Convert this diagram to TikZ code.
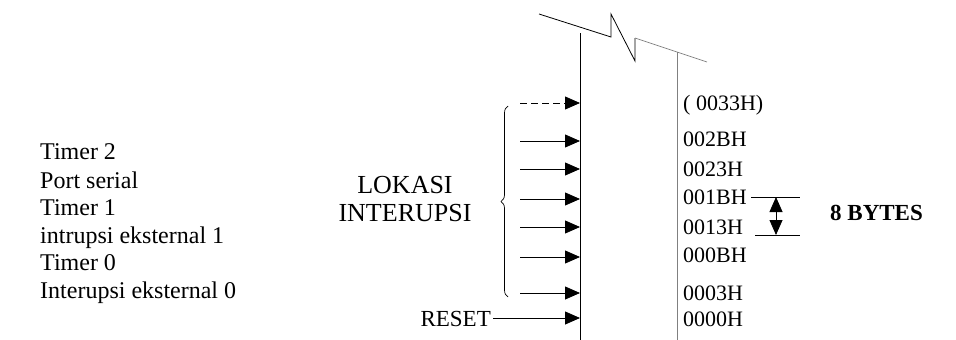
\documentclass[tikz,border=0pt]{standalone}
\usepackage{fontspec}
\setmainfont{Liberation Serif}
\usetikzlibrary{arrows.meta,decorations.pathreplacing}
\begin{document}
\begin{tikzpicture}[x=1pt,y=-1pt,
  listtxt/.style={font=\fontsize{24}{28}\selectfont, inner sep=0pt, anchor=base west},
  addr/.style={font=\fontsize{22}{26}\selectfont, inner sep=0pt, anchor=base west},
  ctxt/.style={font=\fontsize{26}{30}\selectfont, inner sep=0pt, anchor=base},
  arr/.style={-{Triangle[length=15pt,width=13pt]}, line width=0.8pt},
  ln/.style={line width=0.8pt},
  faint/.style={line width=0.7pt, gray}]
\useasboundingbox (0,0) rectangle (956,340);

% break line at top
\coordinate (z1) at (539,14);
\coordinate (z2) at (611,37);
\coordinate (z3) at (611,14);
\coordinate (z4) at (635,61);
\coordinate (z5) at (635,38);
\coordinate (z6) at (707,62);
\draw[ln] (z1) -- (z2) -- (z3) -- (z4) -- (z5);
\draw[faint] (z5) -- (z6);

% vertical lines
\coordinate (La) at (580,33);
\coordinate (Lb) at (580,340);
\coordinate (Ra) at (677,52);
\coordinate (Rb) at (677,340);
\draw[ln] (La) -- (Lb);
\draw[faint] (Ra) -- (Rb);

% left list
\node[listtxt] (t1) at (40,159) {Timer 2};
\node[listtxt] (t2) at (40,188) {Port serial};
\node[listtxt] (t3) at (40,215) {Timer 1};
\node[listtxt] (t4) at (40,243) {intrupsi eksternal 1};
\node[listtxt] (t5) at (40,270) {Timer 0};
\node[listtxt] (t6) at (40,298) {Interupsi eksternal 0};

% lokasi interupsi
\node[ctxt] (lok) at (405,193) {LOKASI};
\node[ctxt] (int) at (405,221) {INTERUPSI};

% brace
\coordinate (ba) at (508,297);
\coordinate (bb) at (508,106);
\draw[line width=0.7pt, decorate, decoration={brace, amplitude=7pt}] (ba) -- (bb);

% arrows
\coordinate (s1) at (520,103); \coordinate (e1) at (580,103);
\coordinate (s2) at (520,141); \coordinate (e2) at (580,141);
\coordinate (s3) at (520,169); \coordinate (e3) at (580,169);
\coordinate (s4) at (520,199); \coordinate (e4) at (580,199);
\coordinate (s5) at (520,227); \coordinate (e5) at (580,227);
\coordinate (s6) at (520,257); \coordinate (e6) at (580,257);
\coordinate (s7) at (520,293); \coordinate (e7) at (580,293);
\coordinate (e8) at (580,318);
\draw[arr, dash pattern=on 7pt off 4pt] (s1) -- (e1);
\draw[arr] (s2) -- (e2);
\draw[arr] (s3) -- (e3);
\draw[arr] (s4) -- (e4);
\draw[arr] (s5) -- (e5);
\draw[arr] (s6) -- (e6);
\draw[arr] (s7) -- (e7);
\node[listtxt, font=\fontsize{23}{27}\selectfont, anchor=base east] (reset) at (491,326) {RESET};
\draw[arr] (reset.east |- e8) ++(2,0) coordinate (s8) -- (e8);

% addresses
\node[addr] (a1) at (683,110) {( 0033H)};
\node[addr] (a2) at (683,146) {002BH};
\node[addr] (a3) at (683,176) {0023H};
\node[addr] (a4) at (683,204) {001BH};
\node[addr] (a5) at (683,234) {0013H};
\node[addr] (a6) at (683,262) {000BH};
\node[addr] (a7) at (683,300) {0003H};
\node[addr] (a8) at (683,326) {0000H};

% 8 bytes
\coordinate (u1) at (751,197); \coordinate (u2) at (800,197);
\coordinate (d1) at (755,235); \coordinate (d2) at (800,235);
\draw[ln] (u1) -- (u2);
\draw[ln] (d1) -- (d2);
\coordinate (m) at (776,216);
\draw[arr] (m) -- (776,197);
\draw[arr] (m) -- (776,235);
\node[addr, font=\fontsize{23}{27}\selectfont\bfseries] (by) at (830,220) {8 BYTES};
\end{tikzpicture}
\end{document}
